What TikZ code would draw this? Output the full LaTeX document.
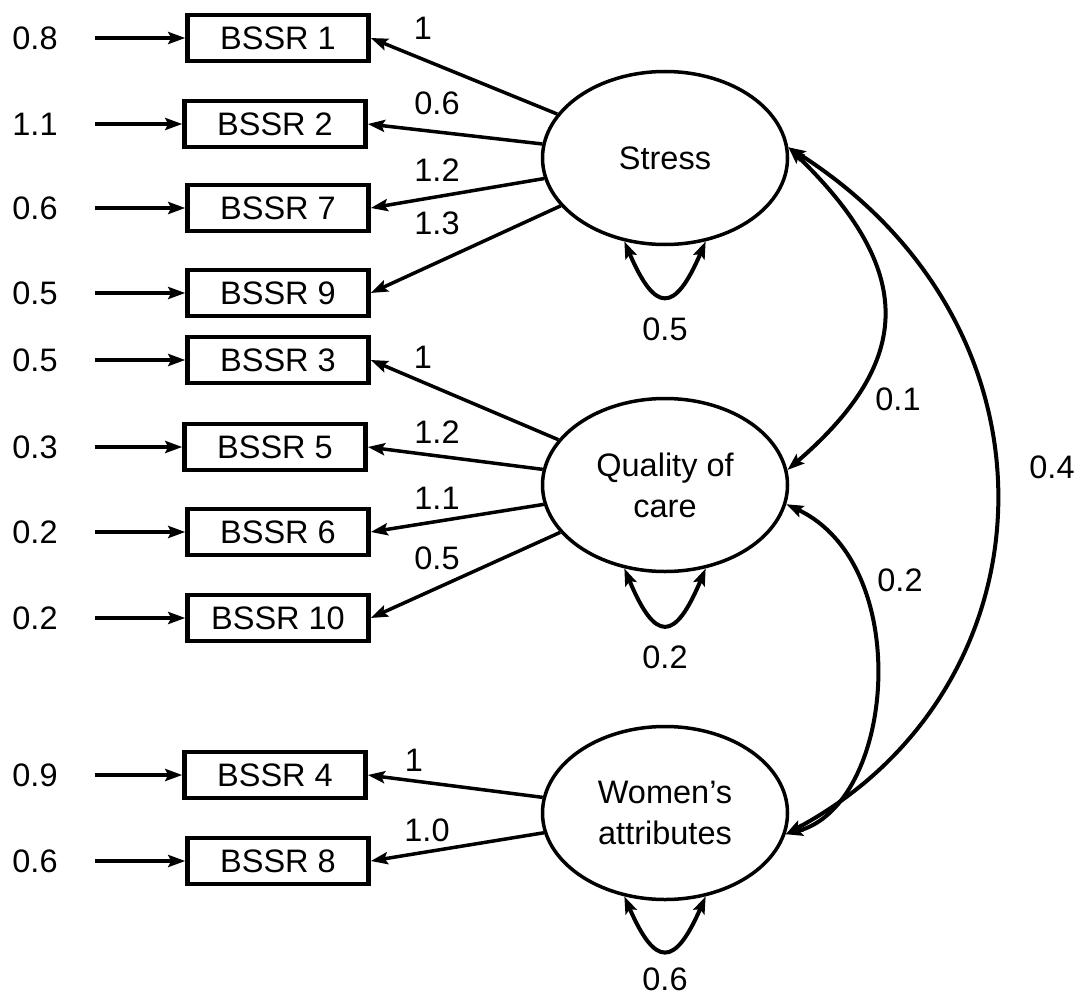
\documentclass[tikz,border=0pt]{standalone}
\usepackage{fontspec}
\setmainfont{Liberation Sans}
\usetikzlibrary{arrows.meta,shapes.geometric}
\begin{document}
\begin{tikzpicture}[x=1pt,y=-1pt,
  font=\fontsize{32.5}{41}\selectfont,
  obs/.style={draw, rectangle, line width=4.5pt, minimum width=181pt, minimum height=46pt, inner sep=0pt},
  lat/.style={draw, ellipse, line width=3.5pt, minimum width=245pt, minimum height=173pt, inner sep=0pt, align=center},
  arr/.style={-{Stealth[length=17pt,width=12pt,inset=3pt]}, line width=3.5pt},
  darr/.style={{Stealth[length=17pt,width=12pt,inset=3pt]}-{Stealth[length=17pt,width=12pt,inset=3pt]}, line width=4pt},
  lbl/.style={inner sep=0pt, anchor=center}]
\useasboundingbox (0,0) rectangle (1079,998);

% latent variables
\node[lat] (S) at (665,158) {Stress};
\node[lat] (Q) at (665,485) {Quality of\\care};
\node[lat] (W) at (665,813) {Women’s\\attributes};

% observed variables
\node[obs] (b1)  at (278,38)  {BSSR 1};
\node[obs] (b2)  at (275,124) {BSSR 2};
\node[obs] (b7)  at (278,208) {BSSR 7};
\node[obs] (b9)  at (278,293) {BSSR 9};
\node[obs] (b3)  at (278,360) {BSSR 3};
\node[obs] (b5)  at (275,447) {BSSR 5};
\node[obs] (b6)  at (278,532) {BSSR 6};
\node[obs] (b10) at (278,618) {BSSR 10};
\node[obs] (b4)  at (275,775) {BSSR 4};
\node[obs] (b8)  at (278,861) {BSSR 8};

% error terms
\foreach \b/\v/\y in {b1/0.8/38, b2/1.1/124, b7/0.6/208, b9/0.5/293, b3/0.5/360,
                      b5/0.3/447, b6/0.2/532, b10/0.2/618, b4/0.9/775, b8/0.6/861}{
  \node[lbl] (v\b) at (35,\y) {\v};
  \coordinate (e\b) at (95,\y);
  \draw[arr] (e\b) -- (\b.west);
}

% loadings
\draw[arr] (S) -- (b1.east);
\draw[arr] (S) -- (b2.east);
\draw[arr] (S) -- (b7.east);
\draw[arr] (S) -- (b9.east);
\draw[arr] (Q) -- (b3.east);
\draw[arr] (Q) -- (b5.east);
\draw[arr] (Q) -- (b6.east);
\draw[arr] (Q) -- (b10.east);
\draw[arr] (W) -- (b4.east);
\draw[arr] (W) -- (b8.east);

\node[lbl] (l1)  at (423,28)  {1};
\node[lbl] (l2)  at (437,103) {0.6};
\node[lbl] (l7)  at (437,170) {1.2};
\node[lbl] (l9)  at (437,223) {1.3};
\node[lbl] (l3)  at (423,357) {1};
\node[lbl] (l5)  at (437,432) {1.2};
\node[lbl] (l6)  at (437,498) {1.1};
\node[lbl] (l10) at (437,558) {0.5};
\node[lbl] (l4)  at (414,760) {1};
\node[lbl] (l8)  at (427,830) {1.0};

% variances (self loops)
\draw[darr] (S.244) .. controls +(31,72) and +(-31,72) .. (S.296);
\draw[darr] (Q.244) .. controls +(31,74) and +(-31,74) .. (Q.296);
\draw[darr] (W.244) .. controls +(31,71) and +(-31,71) .. (W.296);
\node[lbl] (vs) at (665,329) {0.5};
\node[lbl] (vq) at (665,657) {0.2};
\node[lbl] (vw) at (665,979) {0.6};

% covariances
\draw[darr] (S.5) .. controls (915,270) and (915,360) .. (Q.7);
\draw[darr] (Q.-9) .. controls (915,565) and (895,805) .. (W.-10);
\draw[darr] (S.5) .. controls (1075,330) and (1055,690) .. (W.-10);
\node[lbl] (c1) at (898,399) {0.1};
\node[lbl] (c2) at (900,580) {0.2};
\node[lbl] (c3) at (1052,467) {0.4};
\end{tikzpicture}
\end{document}
